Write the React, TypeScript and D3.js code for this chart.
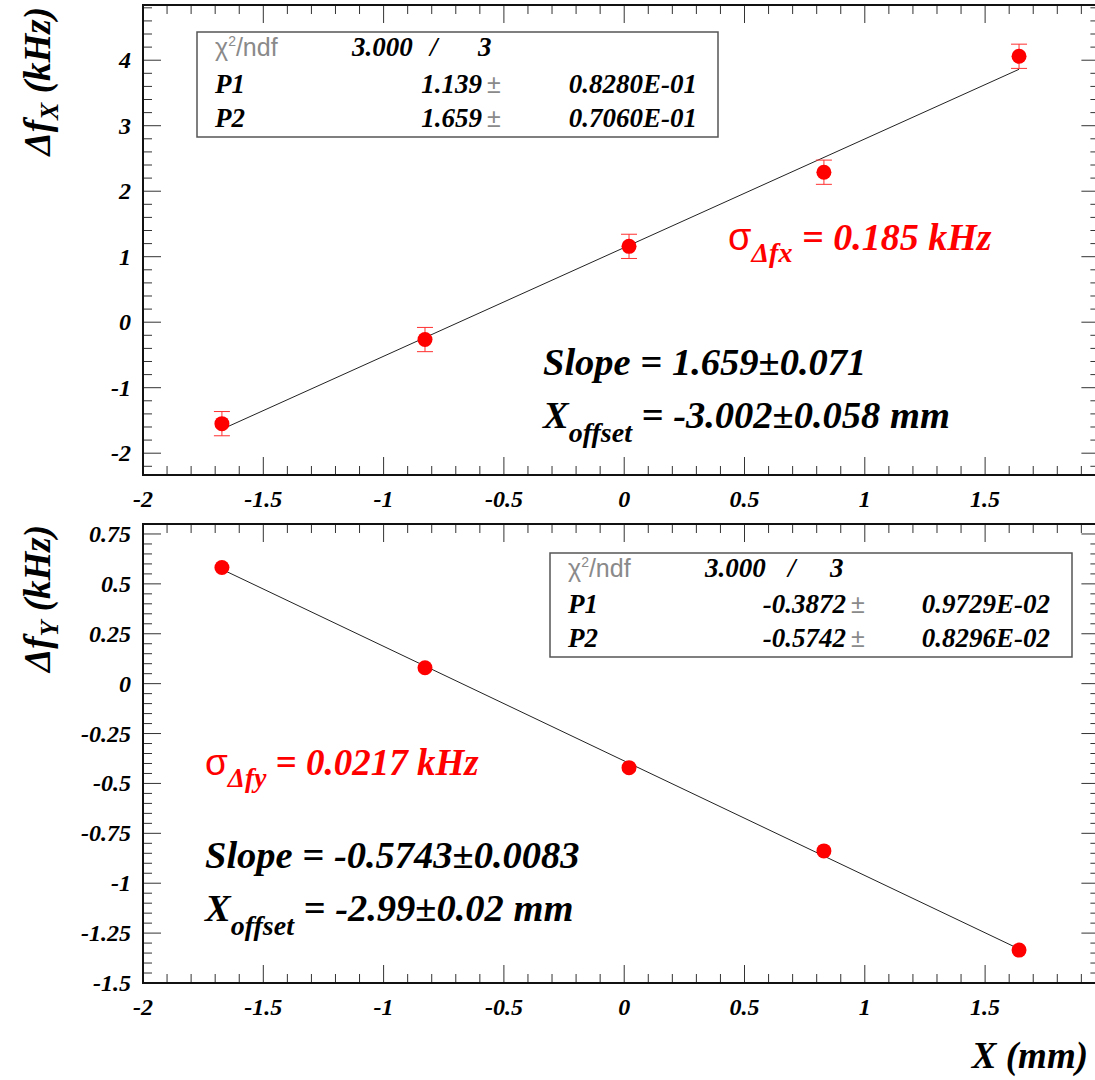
import React from "react";
import * as d3 from "d3";

// ---------- data ----------
const xValues = [-1.672, -0.828, 0.02, 0.83, 1.641];
const dfxValues = [-1.549, -0.265, 1.158, 2.29, 4.06];
const dfxErrors = [0.185, 0.185, 0.185, 0.185, 0.185];
const dfyValues = [0.582, 0.08, -0.421, -0.838, -1.335];
const dfyErrors = [0.0217, 0.0217, 0.0217, 0.0217, 0.0217];
const fitTop = [1.139, 1.659]; // P1, P2
const fitBottom = [-0.3872, -0.5742];
const xMajorTicks = [-2, -1.5, -1, -0.5, 0, 0.5, 1, 1.5];
const yMajorTicksTop = [-2, -1, 0, 1, 2, 3, 4];
const yMajorTicksBottom = [-1.5, -1.25, -1, -0.75, -0.5, -0.25, 0, 0.25, 0.5, 0.75];
const statsTop = ["3.000", "3", "1.139", "0.8280E-01", "1.659", "0.7060E-01"];
const statsBottom = ["3.000", "3", "-0.3872", "0.9729E-02", "-0.5742", "0.8296E-02"];

// ---------- layout ----------
const W = 1095;
const H = 1080;
const X0 = 143;
const X1 = 1099.4;
const SERIF = '"Liberation Serif"';
const SANS = '"Liberation Sans"';
const MARKER_R = 7.5;

const xScale = d3.scaleLinear().domain([-2, 1.975]).range([X0, X1]);

const biStyle = (size: number): React.CSSProperties => ({
  fontFamily: SERIF,
  fontWeight: "bold",
  fontStyle: "italic",
  fontSize: size,
});

type PanelProps = {
  top: number;
  bottom: number;
  yDomain: [number, number];
  yMajor: number[];
  yMinorStep: number;
  ys: number[];
  errs: number[];
  fit: number[];
};

function Panel({ top, bottom, yDomain, yMajor, yMinorStep, ys, errs, fit }: PanelProps) {
  const yScale = d3.scaleLinear().domain(yDomain).range([bottom, top]);
  const xMinor = d3.range(-2, 1.975, 0.1).map((v) => Math.round(v * 100) / 100);
  const yMinor: number[] = [];
  const start = Math.ceil(yDomain[0] / yMinorStep - 1e-6);
  for (let k = start; k * yMinorStep <= yDomain[1] + 1e-9; k++) {
    yMinor.push(Math.round(k * yMinorStep * 1000) / 1000);
  }
  const isMajorX = (v: number) => xMajorTicks.some((m) => Math.abs(m - v) < 1e-6);
  const isMajorY = (v: number) => yMajor.some((m) => Math.abs(m - v) < 1e-6);
  const lineGen = d3
    .line<number>()
    .x((d) => xScale(d))
    .y((d) => yScale(fit[0] + fit[1] * d));
  const fitX = [xValues[0], xValues[xValues.length - 1]];
  const tickColor = "#333";
  return (
    <g>
      {xMinor.map((v, i) => {
        const L = isMajorX(v) ? 18 : 9;
        const x = xScale(v);
        return (
          <g key={"xt" + i}>
            <line x1={x} x2={x} y1={bottom} y2={bottom - L} stroke={tickColor} strokeWidth={1} />
            <line x1={x} x2={x} y1={top} y2={top + L} stroke={tickColor} strokeWidth={1} />
          </g>
        );
      })}
      {yMinor.map((v, i) => {
        const L = isMajorY(v) ? 18 : 9;
        const y = yScale(v);
        return (
          <g key={"yt" + i}>
            <line x1={X0} x2={X0 + L} y1={y} y2={y} stroke={tickColor} strokeWidth={1} />
            <line x1={X1} x2={X1 - L} y1={y} y2={y} stroke={tickColor} strokeWidth={1} />
          </g>
        );
      })}
      <rect x={X0} y={top} width={X1 - X0} height={bottom - top} fill="none" stroke="#111" strokeWidth={2} />
      {yMajor.map((v, i) => (
        <text key={"yl" + i} x={X0 - 12} y={yScale(v) + 8} textAnchor="end" style={biStyle(24)}>
          {String(v)}
        </text>
      ))}
      {xMajorTicks.map((v, i) => (
        <text key={"xl" + i} x={xScale(v)} y={bottom + 32} textAnchor="middle" style={biStyle(24)}>
          {String(v)}
        </text>
      ))}
      <path d={lineGen(fitX) || ""} fill="none" stroke="#222" strokeWidth={1} />
      {xValues.map((xv, i) => {
        const x = xScale(xv);
        const y1 = yScale(ys[i] - errs[i]);
        const y2 = yScale(ys[i] + errs[i]);
        if (Math.abs(y1 - y2) / 2 <= MARKER_R) return null;
        return (
          <g key={"eb" + i} stroke="#ff3030" strokeWidth={1}>
            <line x1={x} x2={x} y1={y1} y2={y2} />
            <line x1={x - 8} x2={x + 8} y1={y1} y2={y1} />
            <line x1={x - 8} x2={x + 8} y1={y2} y2={y2} />
          </g>
        );
      })}
      {xValues.map((xv, i) => (
        <circle key={"pt" + i} cx={xScale(xv)} cy={yScale(ys[i])} r={MARKER_R} fill="#ff0000" />
      ))}
    </g>
  );
}

type StatProps = {
  x: number;
  y: number;
  w: number;
  h: number;
  vals: string[];
  c1: number;
  cSlash: number;
  c3: number;
  cVal: number;
  cPm: number;
  cErr: number;
  rows: number[];
};

function StatBox({ x, y, w, h, vals, c1, cSlash, c3, cVal, cPm, cErr, rows }: StatProps) {
  const bi = biStyle(27);
  const grey: React.CSSProperties = { fontFamily: SANS, fontSize: 25, fill: "#8a8a8a" };
  return (
    <g>
      <rect x={x} y={y} width={w} height={h} fill="white" stroke="#555" strokeWidth={1.5} />
      <text x={x + 18} y={y + rows[0]} style={grey}>
        χ<tspan dy={-10} style={{ fontSize: 14 }}>2</tspan>
        <tspan dy={10}>/ndf</tspan>
      </text>
      <text x={c1} y={y + rows[0]} style={bi}>{vals[0]}</text>
      <text x={cSlash} y={y + rows[0]} style={bi}>/</text>
      <text x={c3} y={y + rows[0]} style={bi}>{vals[1]}</text>
      <text x={x + 18} y={y + rows[1]} style={bi}>P1</text>
      <text x={cVal} y={y + rows[1]} textAnchor="end" style={bi}>{vals[2]}</text>
      <text x={cPm} y={y + rows[1]} style={grey}>±</text>
      <text x={cErr} y={y + rows[1]} textAnchor="end" style={bi}>{vals[3]}</text>
      <text x={x + 18} y={y + rows[2]} style={bi}>P2</text>
      <text x={cVal} y={y + rows[2]} textAnchor="end" style={bi}>{vals[4]}</text>
      <text x={cPm} y={y + rows[2]} style={grey}>±</text>
      <text x={cErr} y={y + rows[2]} textAnchor="end" style={bi}>{vals[5]}</text>
    </g>
  );
}

function YTitle({ x, y, sub }: { x: number; y: number; sub: string }) {
  return (
    <text transform={`translate(${x},${y}) rotate(-90)`} textAnchor="end" style={biStyle(37)}>
      Δf<tspan dy={8} style={{ fontSize: 26 }}>{sub}</tspan>
      <tspan dy={-8}> (kHz)</tspan>
    </text>
  );
}

function RedSigma({ x, y, sub, val, size }: { x: number; y: number; sub: string; val: string; size: number }) {
  return (
    <text x={x} y={y} style={{ ...biStyle(size), fill: "#ff0000" }}>
      <tspan style={{ fontFamily: SANS, fontWeight: "normal", fontStyle: "normal" }}>σ</tspan>
      <tspan dy={12} style={{ fontSize: size * 0.74 }}>Δ{sub}</tspan>
      <tspan dy={-12}>{" = " + val + " kHz"}</tspan>
    </text>
  );
}

function FitText({ x, y, slope, offset }: { x: number; y: number; slope: string; offset: string }) {
  const st = biStyle(38.5);
  return (
    <g>
      <text x={x} y={y} style={st}>{"Slope = " + slope}</text>
      <text x={x} y={y + 53} style={st}>
        X<tspan dy={14} style={{ fontSize: 28 }}>offset</tspan>
        <tspan dy={-14}>{" = " + offset + " mm"}</tspan>
      </text>
    </g>
  );
}

export default function App() {
  return (
    <div style={{ position: "absolute", left: 0, top: 0 }}>
      <svg width={W} height={H} style={{ display: "block", background: "white" }}>
        <rect x={0} y={0} width={W} height={H} fill="white" />
        <Panel
          top={5}
          bottom={475}
          yDomain={[-2.333, 4.843]}
          yMajor={yMajorTicksTop}
          yMinorStep={0.2}
          ys={dfxValues}
          errs={dfxErrors}
          fit={fitTop}
        />
        <Panel
          top={524}
          bottom={983}
          yDomain={[-1.5, 0.8]}
          yMajor={yMajorTicksBottom}
          yMinorStep={0.05}
          ys={dfyValues}
          errs={dfyErrors}
          fit={fitBottom}
        />
        <YTitle x={50} y={7} sub="X" />
        <YTitle x={50} y={525} sub="Y" />
        <text x={1088} y={1068} textAnchor="end" style={biStyle(37)}>
          X (mm)
        </text>
        <StatBox
          x={197}
          y={32}
          w={521}
          h={105}
          vals={statsTop}
          c1={352}
          cSlash={430}
          c3={478}
          cVal={482}
          cPm={487}
          cErr={697}
          rows={[24, 61, 95]}
        />
        <StatBox
          x={550}
          y={553}
          w={522}
          h={104}
          vals={statsBottom}
          c1={705}
          cSlash={788}
          c3={830}
          cVal={846}
          cPm={851}
          cErr={1050}
          rows={[24, 60, 94]}
        />
        <RedSigma x={728} y={250} sub="fx" val="0.185" size={38} />
        <RedSigma x={205} y={775} sub="fy" val="0.0217" size={37} />
        <FitText x={543} y={375} slope="1.659±0.071" offset="-3.002±0.058" />
        <FitText x={205} y={868} slope="-0.5743±0.0083" offset="-2.99±0.02" />
      </svg>
    </div>
  );
}
